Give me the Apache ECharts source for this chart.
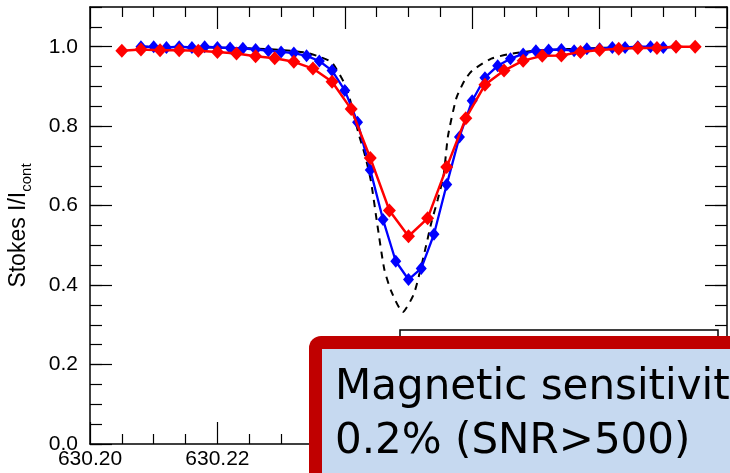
<!DOCTYPE html>
<html>
<head>
<meta charset="utf-8">
<script src="https://cdn.jsdelivr.net/npm/echarts@6/dist/echarts.min.js"></script>
<style>
    html, body { margin: 0; padding: 0; background: #fff; }
    #chart { width: 730px; height: 473px; }
</style>
</head>
<body>
<div id="chart"></div>
<script>
// wavelength (nm) and normalised intensity
var blueX = [630.208, 630.210, 630.212, 630.214, 630.216, 630.218, 630.220, 630.222, 630.224, 630.226,
             630.228, 630.230, 630.232, 630.234, 630.236, 630.238, 630.240, 630.242, 630.244, 630.246,
             630.248, 630.250, 630.252, 630.254, 630.256, 630.258, 630.260, 630.262, 630.264, 630.266,
             630.268, 630.270, 630.272, 630.274, 630.276, 630.278, 630.280, 630.282, 630.284, 630.286,
             630.288, 630.290, 630.292];
var blueY = [1.000, 1.000, 0.998, 1.000, 0.998, 1.000, 0.998, 0.997, 0.996, 0.993,
             0.990, 0.987, 0.984, 0.977, 0.964, 0.940, 0.890, 0.810, 0.690, 0.565,
             0.460, 0.414, 0.442, 0.528, 0.653, 0.773, 0.864, 0.922, 0.952, 0.970,
             0.982, 0.990, 0.992, 0.993, 0.990, 0.995, 0.995, 0.998, 0.998, 1.000,
             1.000, 0.998, 1.000];

var redX = [630.205, 630.208, 630.211, 630.214, 630.217, 630.220, 630.223, 630.226, 630.229, 630.232,
            630.235, 630.238, 630.241, 630.244, 630.247, 630.250, 630.253, 630.256, 630.259, 630.262,
            630.265, 630.268, 630.271, 630.274, 630.277, 630.280, 630.283, 630.286, 630.289, 630.292,
            630.295];
var redY = [0.990, 0.993, 0.991, 0.991, 0.990, 0.987, 0.983, 0.976, 0.971, 0.962,
            0.945, 0.912, 0.843, 0.720, 0.588, 0.523, 0.568, 0.697, 0.820, 0.904,
            0.940, 0.965, 0.977, 0.978, 0.987, 0.992, 0.995, 0.997, 0.997, 1.000,
            1.000];

// dashed reference profile
var modelX = [630.208, 630.215, 630.225, 630.230, 630.234, 630.236, 630.238, 630.2403, 630.2421, 630.2432,
              630.2441, 630.2451, 630.2462, 630.2473, 630.2491, 630.2508, 630.2517, 630.2527, 630.2536, 630.2546,
              630.2555, 630.2562, 630.2575, 630.2588, 630.260, 630.263, 630.266, 630.270, 630.280, 630.293];
var modelY = [1.000, 0.999, 0.996, 0.992, 0.985, 0.975, 0.960, 0.895, 0.785, 0.725,
              0.662, 0.553, 0.440, 0.384, 0.332, 0.376, 0.427, 0.495, 0.558, 0.616,
              0.675, 0.775, 0.870, 0.915, 0.940, 0.970, 0.982, 0.990, 0.997, 1.000];

var note1 = 'Magnetic sensitivity';
var note2 = '0.2% (SNR>500)';

function pairs(xs, ys) {
    return xs.map(function (x, i) { return [x, ys[i]]; });
}

var chart = echarts.init(document.getElementById('chart'));

var tickFont = { fontFamily: 'Liberation Sans', fontSize: 21, color: '#000' };
var lineBlack = { show: true, onZero: false, lineStyle: { color: '#000', width: 1.5 } };

function xAx(pos, withLabels) {
    return {
        type: 'value', position: pos, min: 630.20, max: 630.30, interval: 0.02,
        axisLine: lineBlack,
        axisTick: { show: true, inside: true, length: 22, lineStyle: { color: '#000', width: 1.2 } },
        minorTick: { show: true, splitNumber: 4, length: 10, lineStyle: { color: '#000', width: 1.2 } },
        axisLabel: Object.assign({ show: withLabels, margin: 5, formatter: function (v) { return v.toFixed(2); } }, tickFont),
        splitLine: { show: false }
    };
}

function yAx(pos, step, len, withLabels) {
    return {
        type: 'value', position: pos, min: 0, max: 1.1, interval: step,
        axisLine: withLabels !== null ? lineBlack : { show: false },
        axisTick: { show: true, inside: true, length: len, lineStyle: { color: '#000', width: 1.2 } },
        axisLabel: Object.assign({ show: !!withLabels, margin: 12, showMaxLabel: false,
            formatter: function (v) { return v.toFixed(1); } }, tickFont),
        splitLine: { show: false }
    };
}

var yMain = yAx('left', 0.2, 22, true);
yMain.name = '{a|Stokes I/I}{s|cont}';
yMain.nameLocation = 'middle';
yMain.nameRotate = 90;
yMain.nameGap = 56;
yMain.nameTextStyle = {
    rich: {
        a: { fontFamily: 'Liberation Sans', fontSize: 23, color: '#000', lineHeight: 30, verticalAlign: 'middle' },
        s: { fontFamily: 'Liberation Sans', fontSize: 15, color: '#000', lineHeight: 30, verticalAlign: 'bottom' }
    }
};

var option = {
    animation: false,
    backgroundColor: '#fff',
    grid: { left: 90, right: 3, top: 7, bottom: 29, outerBoundsMode: 'none', containLabel: false },
    xAxis: [xAx('bottom', true), xAx('top', false)],
    yAxis: [
        yMain,
        yAx('left', 0.05, 12, null),
        yAx('right', 0.2, 22, false),
        yAx('right', 0.05, 12, null)
    ],
    series: [
        {
            type: 'line', data: pairs(modelX, modelY), symbol: 'none', smooth: 0.2,
            lineStyle: { color: '#000', width: 2, type: [7, 6] }, z: 2
        },
        {
            type: 'line', data: pairs(blueX, blueY), symbol: 'diamond', symbolSize: [11, 13],
            lineStyle: { color: '#0000ff', width: 2.3 }, itemStyle: { color: '#0000ff' }, z: 3
        },
        {
            type: 'line', data: pairs(redX, redY), symbol: 'diamond', symbolSize: [13, 14],
            lineStyle: { color: '#ff0000', width: 2.5 }, itemStyle: { color: '#ff0000' }, z: 4
        }
    ],
    graphic: [
        {
            type: 'rect', z: 100, shape: { x: 400, y: 330, width: 318, height: 200 },
            style: { fill: '#fff', stroke: '#000', lineWidth: 1.5 }
        },
        {
            type: 'rect', z: 101, shape: { x: 309, y: 336, width: 460, height: 200, r: 12 },
            style: { fill: '#c00000' }
        },
        {
            type: 'rect', z: 102, shape: { x: 322, y: 349, width: 440, height: 180 },
            style: { fill: '#c6d9f0' }
        },
        {
            type: 'text', z: 103, x: 335, y: 388,
            style: { text: note1, font: '42px "DejaVu Sans"', fill: '#000', verticalAlign: 'middle' }
        },
        {
            type: 'text', z: 103, x: 335, y: 442,
            style: { text: note2, font: '42px "DejaVu Sans"', fill: '#000', verticalAlign: 'middle' }
        }
    ]
};

chart.setOption(option);
window.addEventListener('resize', function () {
    chart.resize();
});
</script>
</body>
</html>
